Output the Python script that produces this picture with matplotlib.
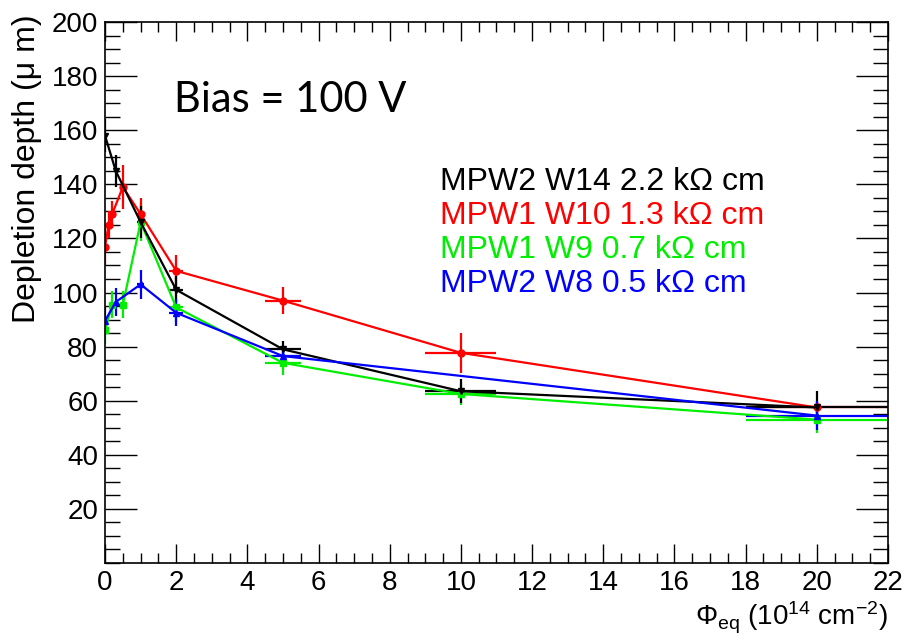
import numpy as np
import matplotlib
matplotlib.use("Agg")
import matplotlib.pyplot as plt
from matplotlib.ticker import MultipleLocator, FixedLocator

plt.rcParams['font.family'] = ['Liberation Sans', 'DejaVu Sans']
plt.rcParams['mathtext.fontset'] = 'custom'
plt.rcParams['mathtext.rm'] = 'Liberation Sans'
plt.rcParams['mathtext.it'] = 'Liberation Sans:italic'

# fluence (1e14 neq/cm2) and depletion depth (um) for each sample
black_x = [0, 0.3, 1, 2, 5, 10, 20]
black_y = [158, 145, 126, 101, 79, 63.5, 57.5]
black_yerr = [6, 6, 6, 5, 3, 4.5, 6]

red_x = [0, 0.1, 0.2, 0.5, 1, 2, 5, 10, 20]
red_y = [117, 125, 129, 139, 129, 108, 97, 77.7, 57.5]
red_yerr = [7, 5, 5, 8, 6, 6, 5, 7.4, 2]

green_x = [0, 0.2, 0.5, 1, 2, 5, 10, 20]
green_y = [86, 95.5, 95.5, 126, 94.5, 74, 62.5, 53]
green_yerr = [5, 5, 5, 7, 5.5, 4.5, 4, 5]

blue_x = [0, 0.3, 1, 2, 5, 20]
blue_y = [89.5, 96.5, 103, 92.5, 76.5, 54.5]
blue_yerr = [5, 5, 5.5, 5, 3, 5.5]

labels = ["MPW2 W14 2.2 k\u03a9 cm", "MPW1 W10 1.3 k\u03a9 cm",
          "MPW1 W9 0.7 k\u03a9 cm", "MPW2 W8 0.5 k\u03a9 cm"]
colors = ["black", "#ff0000", "#00ee00", "#0000ff"]

fig = plt.figure(figsize=(9.07, 6.4), dpi=100)
ax = fig.add_axes([0.1158, 0.1203, 0.979 - 0.1158, 0.9656 - 0.1203])

series = [
    (green_x, green_y, green_yerr, colors[2], 's'),
    (red_x, red_y, red_yerr, colors[1], 'o'),
    (black_x, black_y, black_yerr, colors[0], 'v'),
    (blue_x, blue_y, blue_yerr, colors[3], '^'),
]
for x, y, yerr, c, m in series:
    x = np.array(x)
    ax.errorbar(x, y, yerr=yerr, xerr=0.1 * x, color=c, marker=m,
                markersize=5, lw=1.6, elinewidth=1.6, capsize=0)

ax.set_xlim(0, 22)
ax.set_ylim(0, 200)
ax.xaxis.set_major_locator(MultipleLocator(2))
ax.xaxis.set_minor_locator(MultipleLocator(0.5))
ax.yaxis.set_major_locator(FixedLocator(np.arange(20, 201, 20)))
ax.yaxis.set_minor_locator(MultipleLocator(5))
ax.tick_params(axis='x', which='major', direction='in', length=14, width=1,
               top=True, labelsize=20, pad=5)
ax.tick_params(axis='x', which='minor', direction='in', length=7, width=1, top=True)
ax.tick_params(axis='y', which='major', direction='in', length=23, width=1,
               right=True, labelsize=20, pad=5)
ax.tick_params(axis='y', which='minor', direction='in', length=11, width=1, right=True)
for sp in ax.spines.values():
    sp.set_linewidth(1.2)

ax.set_ylabel("Depletion depth (\u03bc m)", fontsize=23, loc='top')
ax.yaxis.set_label_coords(-0.08, 1.015)
ax.set_xlabel("\u03a6$_{\\rm eq}$ (10$^{14}$ cm$^{-2}$)", fontsize=20, loc='right')
ax.xaxis.set_label_coords(1.0, -0.068)

ax.text(0.088, 0.855, "Bias = 100 V", transform=ax.transAxes, fontsize=30,
        family=['Lato', 'DejaVu Sans'], va='center')

for i, (lab, c) in enumerate(zip(labels, colors)):
    ax.text(0.428, 0.704 - i * 0.0628, lab, transform=ax.transAxes,
            fontsize=23, color=c, va='center')

fig.savefig("out.png", dpi=100)
